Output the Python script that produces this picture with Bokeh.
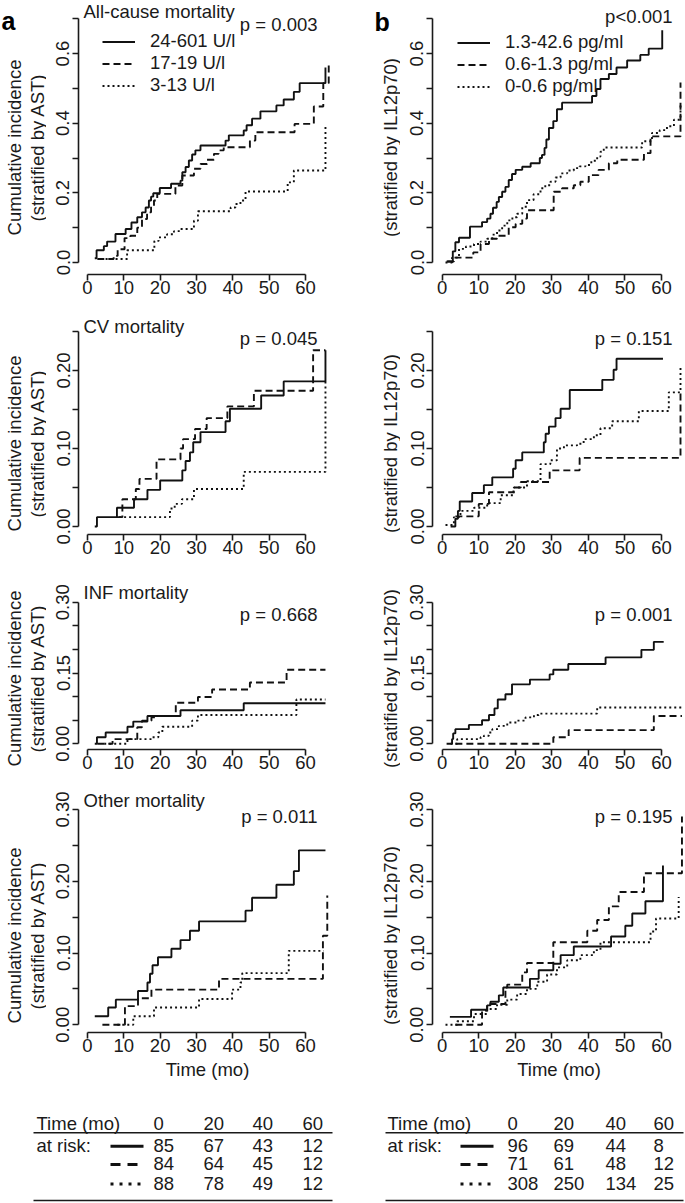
import math
from bokeh.plotting import figure
from bokeh.models import Range1d, FixedTicker, NumeralTickFormatter, Label, Legend, LegendItem
from bokeh.layouts import column, row
from bokeh.core.properties import value
from bokeh.embed import file_html
from bokeh.resources import INLINE

# ---------------- data ----------------
ast_groups = ["24-601 U/l", "17-19 U/l", "3-13 U/l"]
il_groups = ["1.3-42.6 pg/ml", "0.6-1.3 pg/ml", "0-0.6 pg/ml"]
titles = ["All-cause mortality", "CV mortality", "INF mortality", "Other mortality"]
p_ast = ["p = 0.003", "p = 0.045", "p = 0.668", "p = 0.011"]
p_il = ["p<0.001", "p = 0.151", "p = 0.001", "p = 0.195"]
x_ticks = [0, 10, 20, 30, 40, 50, 60]

# All-cause, AST
a1_hi_t = [2.0, 2.5, 4.5, 5.4, 7.7, 10.5, 12.1, 13.7, 15.0, 16.0, 16.9, 17.5, 18.1, 19.9, 23.0, 25.6, 26.1, 27.0, 27.9, 28.8, 29.7, 31.1, 38.0, 38.9, 43.0, 43.8, 45.3, 47.6, 52.0, 54.0, 56.8, 58.4, 65.5]
a1_hi_v = [0.012, 0.035, 0.047, 0.060, 0.082, 0.096, 0.115, 0.130, 0.144, 0.158, 0.178, 0.189, 0.199, 0.214, 0.226, 0.235, 0.259, 0.274, 0.293, 0.310, 0.322, 0.336, 0.350, 0.365, 0.379, 0.394, 0.413, 0.434, 0.451, 0.468, 0.490, 0.515, 0.560]
a1_mid_t = [2.7, 7.2, 8.3, 10.2, 11.8, 13.7, 15.0, 16.4, 17.5, 18.3, 19.2, 24.2, 26.1, 29.3, 31.1, 32.9, 34.8, 36.1, 37.5, 44.7, 46.2, 57.0, 62.3, 64.9, 66.4]
a1_mid_v = [0.010, 0.019, 0.038, 0.070, 0.077, 0.100, 0.125, 0.144, 0.163, 0.178, 0.197, 0.221, 0.250, 0.269, 0.283, 0.295, 0.312, 0.322, 0.331, 0.350, 0.374, 0.398, 0.448, 0.515, 0.566]
a1_lo_t = [3.6, 10.9, 18.4, 19.6, 21.9, 23.8, 25.6, 29.3, 30.4, 39.4, 40.7, 42.1, 43.5, 55.1, 56.8, 65.5]
a1_lo_v = [0.010, 0.035, 0.062, 0.072, 0.081, 0.090, 0.096, 0.120, 0.147, 0.158, 0.168, 0.178, 0.204, 0.230, 0.264, 0.389]
# CV, AST
a2_hi_t = [2.0, 2.6, 8.1, 12.8, 16.5, 20.0, 26.1, 27.0, 28.2, 29.1, 31.1, 38.0, 39.2, 47.8, 54.0, 65.5]
a2_hi_v = [0.000, 0.012, 0.024, 0.035, 0.047, 0.059, 0.072, 0.084, 0.095, 0.108, 0.121, 0.135, 0.151, 0.168, 0.186, 0.226]
a2_mid_t = [8.1, 9.6, 13.3, 14.3, 19.0, 25.6, 26.3, 29.6, 32.8, 38.5, 45.8, 62.1, 65.5]
a2_mid_v = [0.012, 0.035, 0.048, 0.061, 0.086, 0.100, 0.112, 0.125, 0.139, 0.154, 0.174, 0.226, 0.226]
a2_lo_t = [8.7, 22.7, 24.0, 26.0, 29.3, 43.0, 65.5]
a2_lo_v = [0.012, 0.023, 0.029, 0.035, 0.048, 0.070, 0.187]
# INF, AST
a3_hi_t = [2.0, 2.6, 5.0, 11.0, 12.6, 16.5, 25.6, 43.0, 65.5]
a3_hi_v = [0.000, 0.014, 0.024, 0.036, 0.047, 0.059, 0.071, 0.086, 0.086]
a3_mid_t = [2.7, 6.9, 13.7, 15.0, 17.6, 19.2, 24.3, 30.4, 34.3, 44.7, 54.8, 65.5]
a3_mid_v = [0.000, 0.010, 0.035, 0.049, 0.056, 0.059, 0.087, 0.099, 0.115, 0.130, 0.157, 0.157]
a3_lo_t = [4.6, 11.0, 17.9, 19.5, 20.6, 28.8, 30.4, 57.5, 65.5]
a3_lo_v = [0.000, 0.010, 0.014, 0.024, 0.036, 0.049, 0.061, 0.094, 0.094]
# Other, AST
a4_hi_t = [2.0, 5.7, 7.8, 13.9, 16.5, 17.2, 17.9, 19.4, 23.1, 25.6, 28.2, 30.7, 43.5, 45.3, 52.0, 56.8, 58.2, 65.5]
a4_hi_v = [0.012, 0.024, 0.035, 0.047, 0.059, 0.071, 0.083, 0.094, 0.106, 0.118, 0.131, 0.144, 0.159, 0.177, 0.195, 0.214, 0.243, 0.243]
a4_mid_t = [4.1, 10.3, 13.9, 17.6, 36.2, 64.8, 66.0]
a4_mid_v = [0.000, 0.026, 0.037, 0.049, 0.064, 0.124, 0.180]
a4_lo_t = [8.2, 12.6, 18.3, 30.7, 39.8, 42.1, 42.6, 55.4, 65.0]
a4_lo_v = [0.000, 0.012, 0.024, 0.036, 0.049, 0.059, 0.072, 0.103, 0.103]
# All-cause, IL12p70
b1_hi_t = [1.2, 2.9, 3.6, 4.6, 7.6, 10.9, 12.3, 13.2, 13.9, 14.9, 15.5, 16.4, 17.3, 18.2, 19.1, 20.1, 21.9, 24.2, 26.7, 27.3, 28.0, 28.5, 29.2, 30.4, 31.4, 32.8, 41.0, 42.2, 43.3, 45.6, 47.7, 50.6, 54.2, 56.5, 60.2]
b1_hi_v = [0.003, 0.032, 0.058, 0.071, 0.103, 0.116, 0.126, 0.140, 0.157, 0.174, 0.188, 0.203, 0.217, 0.237, 0.254, 0.266, 0.275, 0.285, 0.300, 0.309, 0.329, 0.353, 0.386, 0.406, 0.440, 0.459, 0.478, 0.498, 0.527, 0.541, 0.560, 0.580, 0.596, 0.614, 0.667]
b1_mid_t = [1.4, 3.2, 8.5, 10.5, 12.8, 15.0, 18.2, 20.1, 21.9, 23.2, 30.5, 32.8, 36.0, 37.8, 40.1, 42.8, 45.6, 47.9, 55.2, 57.0, 65.2]
b1_mid_v = [0.003, 0.014, 0.029, 0.053, 0.068, 0.077, 0.101, 0.111, 0.126, 0.150, 0.203, 0.213, 0.222, 0.232, 0.251, 0.266, 0.285, 0.295, 0.314, 0.362, 0.517]
b1_lo_t = [0.9, 2.7, 4.6, 6.5, 8.7, 10.5, 12.3, 13.7, 15.0, 16.4, 17.8, 19.2, 20.5, 21.9, 23.2, 25.0, 26.9, 28.2, 29.6, 31.0, 32.4, 34.2, 36.0, 37.6, 39.2, 40.8, 42.4, 43.3, 44.2, 54.7, 57.4, 59.5, 61.5, 63.4, 65.2]
b1_lo_v = [0.000, 0.014, 0.039, 0.046, 0.053, 0.060, 0.068, 0.080, 0.092, 0.106, 0.121, 0.130, 0.140, 0.160, 0.179, 0.196, 0.213, 0.222, 0.232, 0.244, 0.256, 0.264, 0.271, 0.276, 0.280, 0.292, 0.304, 0.318, 0.330, 0.348, 0.372, 0.380, 0.391, 0.410, 0.459]
# CV, IL12p70
b2_hi_t = [2.3, 3.6, 4.3, 4.8, 8.2, 11.4, 13.7, 19.4, 20.1, 21.9, 27.8, 28.3, 29.2, 31.0, 32.4, 34.9, 43.8, 46.9, 47.7, 60.4]
b2_hi_v = [0.000, 0.010, 0.020, 0.032, 0.043, 0.053, 0.063, 0.074, 0.085, 0.095, 0.108, 0.119, 0.128, 0.139, 0.151, 0.175, 0.188, 0.201, 0.215, 0.215]
b2_mid_t = [3.6, 10.0, 12.8, 19.5, 21.5, 29.4, 37.6, 65.2]
b2_mid_v = [0.013, 0.029, 0.044, 0.050, 0.057, 0.072, 0.088, 0.174]
b2_lo_t = [0.9, 3.2, 5.0, 8.7, 12.3, 16.0, 19.6, 23.2, 26.9, 29.6, 31.4, 33.3, 36.9, 38.7, 41.5, 43.3, 46.5, 53.8, 62.0, 65.2]
b2_lo_v = [0.002, 0.012, 0.020, 0.024, 0.030, 0.040, 0.050, 0.058, 0.080, 0.085, 0.100, 0.104, 0.106, 0.112, 0.117, 0.126, 0.135, 0.148, 0.172, 0.204]
# INF, IL12p70
b3_hi_t = [1.2, 2.7, 3.0, 3.6, 7.3, 10.9, 12.8, 14.3, 15.2, 17.3, 19.1, 24.0, 29.4, 30.4, 34.5, 44.7, 54.5, 57.9, 60.6]
b3_hi_v = [0.000, 0.010, 0.022, 0.031, 0.040, 0.050, 0.061, 0.075, 0.094, 0.105, 0.126, 0.136, 0.147, 0.157, 0.169, 0.183, 0.199, 0.216, 0.216]
b3_mid_t = [3.6, 30.4, 34.6, 57.9, 65.6]
b3_mid_v = [0.000, 0.014, 0.029, 0.059, 0.059]
b3_lo_t = [2.3, 4.1, 10.5, 11.4, 12.8, 13.7, 15.5, 17.8, 20.5, 22.8, 25.1, 26.4, 42.4, 65.6]
b3_lo_v = [0.000, 0.010, 0.014, 0.017, 0.024, 0.031, 0.038, 0.045, 0.049, 0.056, 0.061, 0.064, 0.077, 0.077]
# Other, IL12p70
b4_hi_t = [2.1, 7.9, 12.3, 13.2, 15.5, 16.7, 24.0, 26.4, 30.4, 32.4, 36.0, 46.2, 50.1, 52.0, 55.6, 60.4]
b4_hi_v = [0.011, 0.021, 0.027, 0.032, 0.041, 0.052, 0.064, 0.076, 0.085, 0.097, 0.109, 0.123, 0.138, 0.155, 0.172, 0.222]
b4_mid_t = [3.6, 10.9, 12.3, 17.3, 17.8, 21.9, 23.2, 30.4, 39.7, 42.4, 45.6, 48.3, 55.2, 65.6]
b4_mid_v = [0.000, 0.020, 0.029, 0.052, 0.056, 0.073, 0.086, 0.115, 0.131, 0.146, 0.165, 0.185, 0.211, 0.290]
b4_lo_t = [0.9, 4.1, 8.7, 12.3, 15.0, 17.8, 20.5, 23.2, 26.0, 28.7, 31.4, 34.2, 37.8, 41.5, 43.3, 57.0, 58.5, 64.7]
b4_lo_v = [0.000, 0.005, 0.015, 0.022, 0.028, 0.035, 0.043, 0.050, 0.060, 0.070, 0.080, 0.090, 0.097, 0.104, 0.115, 0.130, 0.148, 0.178]

# numbers at risk
risk_times = [0, 20, 40, 60]
ast_risk_hi = [85, 67, 43, 12]
ast_risk_mid = [84, 64, 45, 12]
ast_risk_lo = [88, 78, 49, 12]
il_risk_hi = [96, 69, 44, 8]
il_risk_mid = [71, 61, 48, 12]
il_risk_lo = [308, 250, 134, 25]

curves = {
    ("a", 0): [(a1_hi_t, a1_hi_v), (a1_mid_t, a1_mid_v), (a1_lo_t, a1_lo_v)],
    ("a", 1): [(a2_hi_t, a2_hi_v), (a2_mid_t, a2_mid_v), (a2_lo_t, a2_lo_v)],
    ("a", 2): [(a3_hi_t, a3_hi_v), (a3_mid_t, a3_mid_v), (a3_lo_t, a3_lo_v)],
    ("a", 3): [(a4_hi_t, a4_hi_v), (a4_mid_t, a4_mid_v), (a4_lo_t, a4_lo_v)],
    ("b", 0): [(b1_hi_t, b1_hi_v), (b1_mid_t, b1_mid_v), (b1_lo_t, b1_lo_v)],
    ("b", 1): [(b2_hi_t, b2_hi_v), (b2_mid_t, b2_mid_v), (b2_lo_t, b2_lo_v)],
    ("b", 2): [(b3_hi_t, b3_hi_v), (b3_mid_t, b3_mid_v), (b3_lo_t, b3_lo_v)],
    ("b", 3): [(b4_hi_t, b4_hi_v), (b4_mid_t, b4_mid_v), (b4_lo_t, b4_lo_v)],
}

# ---------------- style / layout (page pixel geometry) ----------------
FONT = "Liberation Sans"
FS = "18.5px"
INK = "#1a1a1a"
LINE = "#111111"
LW = 1.9
DASHES = ["solid", "7 4", "2 3"]
BODY_H = 1090

COLS = {
    "a": dict(left=46, width=324, mbl=32, mbr=34, x0=87.0, ppu=3.633,
              pright=317, leg=ast_groups, pv=p_ast, leg_xy=(24, 178)),
    "b": dict(left=400, width=285, mbl=32, mbr=0, x0=441.7, ppu=3.655,
              pright=672, leg=il_groups, pv=p_il, leg_xy=(25, 177)),
}
ROWS = [
    dict(top=0, h=316, ftop=2, fbot=274, zero=262.0, ppu=348.3, ymax=0.7,
         major=[0, 0.2, 0.4, 0.6], minor=[0.1, 0.3, 0.5, 0.7], fmt="0.0",
         ylc=147, title_y=10.5, p_y={"a": 23.8, "b": 16.3}),
    dict(top=316, h=264, ftop=317, fbot=534, zero=526.0, ppu=780.0, ymax=0.25,
         major=[0, 0.1, 0.2], minor=[0.05, 0.15, 0.25], fmt="0.00",
         ylc=443, title_y=325.9, p_y={"a": 337.5, "b": 337.5}),
    dict(top=580, h=208, ftop=582, fbot=749, zero=743.3, ppu=472.0, ymax=0.30,
         major=[0, 0.15, 0.3], minor=[0.05, 0.1, 0.2, 0.25], fmt="0.00",
         ylc=678, title_y=591.7, p_y={"a": 613.5, "b": 613.5}),
    dict(top=788, h=302, ftop=789, fbot=1032, zero=1024.3, ppu=718.0, ymax=0.30,
         major=[0, 0.1, 0.2, 0.3], minor=[0.05, 0.15, 0.25], fmt="0.00",
         ylc=935, title_y=800.3, p_y={"a": 815.8, "b": 815.8}),
]


def make_panel(cname, ri):
    c = COLS[cname]
    r = ROWS[ri]
    fl = c["left"] + c["mbl"]
    fr = c["left"] + c["width"] - c["mbr"]
    X = lambda px: (px - c["x0"]) / c["ppu"]
    Y = lambda py: (r["zero"] - py) / r["ppu"]
    p = figure(width=c["width"], height=r["h"],
               x_range=Range1d(X(fl), X(fr)), y_range=Range1d(Y(r["fbot"]), Y(r["ftop"])),
               output_backend="svg", toolbar_location=None,
               min_border_left=c["mbl"], min_border_right=c["mbr"],
               min_border_top=r["ftop"] - r["top"],
               min_border_bottom=r["top"] + r["h"] - r["fbot"])
    p.outline_line_color = None
    p.grid.visible = False
    p.background_fill_color = "white"
    p.border_fill_color = "white"

    p.xaxis.ticker = FixedTicker(ticks=x_ticks, minor_ticks=[])
    p.xaxis.bounds = (x_ticks[0], x_ticks[-1])
    p.yaxis.ticker = FixedTicker(ticks=r["major"], minor_ticks=r["minor"])
    p.yaxis.bounds = (0, r["ymax"])
    p.yaxis.formatter = NumeralTickFormatter(format=r["fmt"])
    p.yaxis.major_label_orientation = "parallel"
    for ax in p.axis:
        ax.axis_line_color = INK
        ax.axis_line_width = 1.6
        ax.major_tick_out = 6
        ax.major_tick_in = 0
        ax.minor_tick_out = 6
        ax.minor_tick_in = 0
        ax.major_tick_line_color = INK
        ax.minor_tick_line_color = INK
        ax.major_tick_line_width = 1.6
        ax.minor_tick_line_width = 1.6
        ax.major_label_text_font = FONT
        ax.major_label_text_font_size = FS
        ax.major_label_text_color = INK
    p.xaxis.major_label_standoff = 0
    p.yaxis.major_label_standoff = 3
    if ri == 3:
        p.xaxis.axis_label = "Time (mo)"
        p.xaxis.axis_label_text_font = FONT
        p.xaxis.axis_label_text_font_size = FS
        p.xaxis.axis_label_text_font_style = "normal"
        p.xaxis.axis_label_text_color = INK
        p.xaxis.axis_label_standoff = 4

    rends = []
    for (t, v), dash in zip(curves[(cname, ri)], DASHES):
        rr = p.step(x=t, y=v, mode="after", line_color=LINE, line_width=LW, line_dash=dash)
        rends.append(rr)

    p.add_layout(Label(x=X(c["pright"]), y=Y(r["p_y"][cname]), text=c["pv"][ri],
                       text_align="right", text_baseline="middle",
                       text_font=FONT, text_font_size=FS, text_color=INK))
    if cname == "a":
        p.add_layout(Label(x=X(83), y=Y(r["title_y"]), text=titles[ri],
                           text_align="left", text_baseline="middle",
                           text_font=FONT, text_font_size=FS, text_color=INK))
    if ri == 0:
        leg = Legend(items=[LegendItem(label=lab, renderers=[rr]) for lab, rr in zip(c["leg"], rends)],
                     location=c["leg_xy"], orientation="vertical",
                     glyph_width=33, glyph_height=21, label_height=21, label_standoff=15,
                     spacing=0, padding=0, margin=0,
                     border_line_color=None, background_fill_alpha=0,
                     label_text_font=FONT, label_text_font_size=FS, label_text_color=INK)
        p.add_layout(leg)
    return p


def make_strip(left, width, letter, letter_xy, ylabels):
    """Narrow figure left of a column holding the rotated y titles and the panel letter."""
    s = figure(width=width, height=BODY_H, x_range=Range1d(left, left + width),
               y_range=Range1d(0, BODY_H), output_backend="svg", toolbar_location=None,
               min_border=0, x_axis_type=None, y_axis_type=None)
    s.outline_line_color = None
    s.grid.visible = False
    s.background_fill_color = "white"
    s.border_fill_color = "white"
    SY = lambda py: BODY_H - py
    s.text(x=[letter_xy[0]], y=[SY(letter_xy[1])], text=[letter], text_font=value(FONT),
           text_font_size=value("25px"), text_font_style="bold", text_color="black",
           text_align="left", text_baseline="alphabetic")
    for px, txt in ylabels:
        s.text(x=[px] * 4, y=[SY(r["ylc"]) for r in ROWS], text=[txt] * 4, angle=math.pi / 2,
               text_font=value(FONT), text_font_size=value(FS), text_color=INK,
               text_align="center", text_baseline="middle")
    return s


strip_a = make_strip(0, 46, "a", (1, 20.5),
                     [(14, "Cumulative incidence"), (36.5, "(stratified by AST)")])
strip_b = make_strip(370, 30, "b", (374, 21.7), [(390, "(stratified by IL12p70)")])
col_a = column(*[make_panel("a", ri) for ri in range(4)])
col_b = column(*[make_panel("b", ri) for ri in range(4)])

# ---------------- at-risk tables ----------------
TW, TH, TTOP = 685, 112, 1090
tab = figure(width=TW, height=TH, x_range=Range1d(0, TW), y_range=Range1d(0, TH),
             output_backend="svg", toolbar_location=None, min_border=0,
             x_axis_type=None, y_axis_type=None)
tab.outline_line_color = None
tab.grid.visible = False
tab.background_fill_color = "white"
tab.border_fill_color = "white"

TY = lambda py: TTOP + TH - py
tables = [
    dict(lab_x=36, s0=110, s1=143, cols=[153, 203, 252, 302], rule=(33, 332),
         risks=[ast_risk_hi, ast_risk_mid, ast_risk_lo]),
    dict(lab_x=387, s0=460, s1=493, cols=[507, 553, 605, 653], rule=(385, 683),
         risks=[il_risk_hi, il_risk_mid, il_risk_lo]),
]
head_y, rule1_y, rule2_y = 1122.5, 1132.3, 1200
row_ys = [1144.7, 1163, 1182.5]
sample_dash = ["solid", "10 7", "3 6"]
for tb in tables:
    tx = [tb["lab_x"]] + list(tb["cols"])
    ty = [TY(head_y)] * 5
    tt = ["Time (mo)"] + [str(v) for v in risk_times]
    tab.text(x=tx, y=ty, text=tt, text_font=value(FONT), text_font_size=value(FS),
             text_color=INK, text_align="left", text_baseline="middle")
    tab.text(x=[tb["lab_x"]], y=[TY(row_ys[0])], text=["at risk:"], text_font=value(FONT),
             text_font_size=value(FS), text_color=INK, text_align="left", text_baseline="middle")
    for k, (risk, dash) in enumerate(zip(tb["risks"], sample_dash)):
        tab.text(x=list(tb["cols"]), y=[TY(row_ys[k])] * 4, text=[str(v) for v in risk],
                 text_font=value(FONT), text_font_size=value(FS), text_color=INK,
                 text_align="left", text_baseline="middle")
        tab.line(x=[tb["s0"], tb["s1"]], y=[TY(row_ys[k] + 1)] * 2, line_color=LINE,
                 line_width=3, line_dash=dash)
    for yy in (rule1_y, rule2_y):
        tab.line(x=list(tb["rule"]), y=[TY(yy)] * 2, line_color=INK, line_width=1.6)

layout = column(row(strip_a, col_a, strip_b, col_b), tab)
open("out.html", "w").write(file_html(layout, INLINE))
